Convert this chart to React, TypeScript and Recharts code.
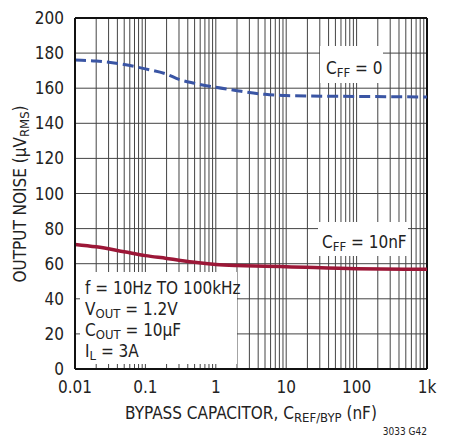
import { LineChart, Line, XAxis, YAxis, CartesianGrid, ReferenceLine } from 'recharts'

const capX = [0.01, 0.02, 0.05, 0.1, 0.2, 0.3, 0.5, 1, 2, 5, 10, 100, 1000]
const noiseCff0 = [176, 175.5, 173.5, 171, 168, 165, 162.8, 160.5, 158.6, 156.5, 155.8, 155.3, 155]
const noiseCff10n = [71, 69.6, 66.8, 64.6, 63, 62, 60.8, 59.6, 59, 58.6, 58.3, 57.1, 56.8]

const xTicks = [0.01, 0.1, 1, 10, 100, 1000]
const yTicks = [0, 20, 40, 60, 80, 100, 120, 140, 160, 180, 200]
const decades = [0.01, 0.1, 1, 10, 100]
const minorX = decades.flatMap((d) => [2, 3, 4, 5, 6, 7, 8, 9, 10].map((m) => d * m))

const data = capX.map((x, i) => ({ x, cff0: noiseCff0[i], cff10: noiseCff10n[i] }))

const font = "'Liberation Sans Narrow', 'DejaVu Sans Condensed', 'Liberation Sans', sans-serif"
const ink = '#222'

const fmtX = (v: number) => (v === 1000 ? '1k' : String(v))

// text with a lowered subscript part
function Sub(props: { x: number, y: number, main: string, sub: string, rest: string }) {
    return (
        <text x={props.x} y={props.y} fontSize={17}>
            {props.main}<tspan fontSize={13} dy={3}>{props.sub}</tspan><tspan dy={-3}>{props.rest}</tspan>
        </text>
    )
}

export default function App() {
    return (
        <div style={{ position: 'absolute', left: 0, top: 0, width: 461, height: 436, background: '#fff', fontFamily: font }}>
            <LineChart width={461} height={436} data={data}
                margin={{ top: 18, right: 34, bottom: 0, left: 0 }}
                style={{ position: 'absolute', left: 0, top: 0 }}>
                <CartesianGrid vertical={false} stroke="#444" strokeWidth={1} />
                {minorX.map((v) => (
                    <ReferenceLine key={`vx-${v}`} x={v} stroke="#444" strokeWidth={1} />
                ))}
                <ReferenceLine y={200} stroke="#111" strokeWidth={2} />
                <ReferenceLine x={1000} stroke="#111" strokeWidth={2} />
                <XAxis dataKey="x" type="number" scale="log" domain={[0.01, 1000]}
                    allowDataOverflow ticks={xTicks} tickFormatter={fmtX}
                    height={67} tickLine={false} tickMargin={6}
                    axisLine={{ stroke: '#111', strokeWidth: 2 }}
                    tick={{ fill: ink, fontSize: 17, fontFamily: font }} />
                <YAxis type="number" domain={[0, 200]} ticks={yTicks} width={75}
                    tickLine={false} tickMargin={5}
                    axisLine={{ stroke: '#111', strokeWidth: 2 }}
                    tick={{ fill: ink, fontSize: 17, fontFamily: font }} />
                <Line dataKey="cff0" type="monotone" stroke="#3a55a4" strokeWidth={3}
                    strokeDasharray="11 5" dot={false} isAnimationActive={false} />
                <Line dataKey="cff10" type="monotone" stroke="#9c1737" strokeWidth={3.5}
                    dot={false} isAnimationActive={false} />
            </LineChart>
            <svg width={461} height={436} style={{ position: 'absolute', left: 0, top: 0, pointerEvents: 'none' }}
                fontFamily={font} fill={ink}>
                <rect x={320} y={46} width={63} height={37} fill="#fff" />
                <Sub x={326} y={74} main="C" sub="FF" rest=" = 0" />
                <rect x={318} y={222} width={90} height={34} fill="#fff" />
                <Sub x={322} y={248} main="C" sub="FF" rest=" = 10nF" />
                <rect x={80} y={272} width={157} height={92} fill="#fff" />
                <text x={85} y={294} fontSize={17}>f = 10Hz TO 100kHz</text>
                <Sub x={85} y={315} main="V" sub="OUT" rest=" = 1.2V" />
                <Sub x={85} y={336} main="C" sub="OUT" rest=" = 10µF" />
                <Sub x={85} y={357} main="I" sub="L" rest=" = 3A" />
                <text x={251} y={419} fontSize={17} textAnchor="middle">
                    BYPASS CAPACITOR, C<tspan fontSize={13} dy={3}>REF/BYP</tspan><tspan dy={-3}> (nF)</tspan>
                </text>
                <text transform="translate(26,194) rotate(-90)" fontSize={17} textAnchor="middle">
                    OUTPUT NOISE (µV<tspan fontSize={13} dy={3}>RMS</tspan><tspan dy={-3}>)</tspan>
                </text>
                <text x={427} y={435} fontSize={10} textAnchor="end">3033 G42</text>
            </svg>
        </div>
    )
}
